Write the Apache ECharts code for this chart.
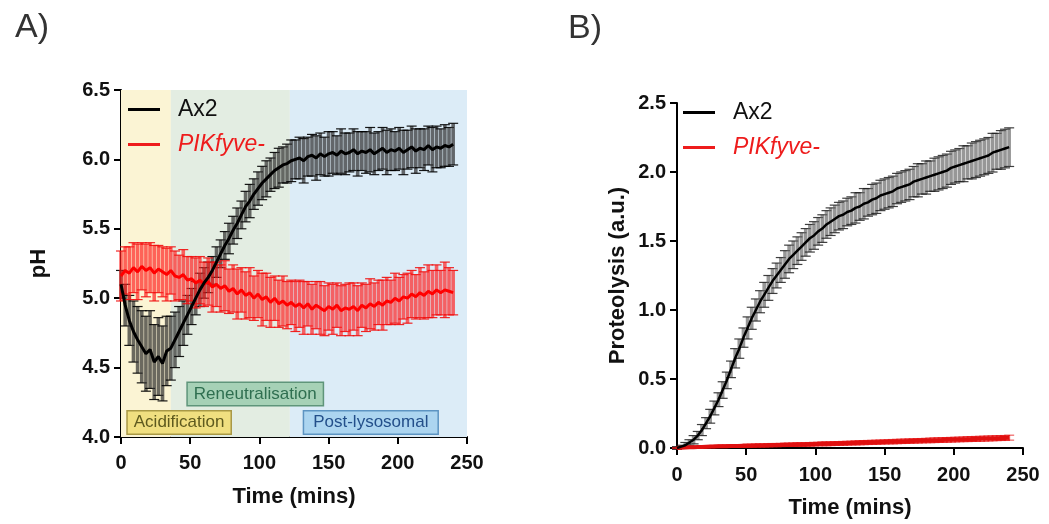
<!DOCTYPE html>
<html>
<head>
<meta charset="utf-8">
<script src="https://cdn.jsdelivr.net/npm/echarts@6/dist/echarts.min.js"></script>
<style>
html,body{margin:0;padding:0;background:#fff;}
#chart{width:1049px;height:524px;}
</style>
</head>
<body>
<div id="chart"></div>
<script>
// Sampling times (mins)
const times = [
0,3,6,9,12,15,18,21,24,27,
30,33,36,39,42,45,48,51,54,57,
60,63,66,69,72,75,78,81,84,87,
90,93,96,99,102,105,108,111,114,117,
120,123,126,129,132,135,138,141,144,147,
150,153,156,159,162,165,168,171,174,177,
180,183,186,189,192,195,198,201,204,207,
210,213,216,219,222,225,228,231,234,237,
240];

// Panel A: pH
const phAx2 = [
5.10,4.95,4.84,4.76,4.70,4.65,4.60,4.63,4.54,4.58,
4.53,4.62,4.64,4.70,4.76,4.82,4.88,4.94,5.00,5.06,
5.11,5.15,5.20,5.26,5.32,5.38,5.43,5.49,5.54,5.60,
5.66,5.70,5.75,5.79,5.83,5.86,5.89,5.92,5.94,5.96,
5.97,5.99,6.00,6.01,5.99,6.02,6.03,6.01,6.04,6.02,
6.04,6.05,6.03,6.06,6.04,6.05,6.07,6.04,6.06,6.05,
6.07,6.04,6.06,6.08,6.05,6.07,6.06,6.08,6.05,6.07,
6.09,6.06,6.08,6.07,6.10,6.07,6.09,6.08,6.10,6.09,
6.11];
const phAx2Err = [
0.10,0.15,0.18,0.22,0.24,0.26,0.27,0.28,0.27,0.28,
0.27,0.25,0.23,0.20,0.18,0.16,0.14,0.13,0.12,0.12,
0.11,0.11,0.10,0.11,0.10,0.10,0.11,0.10,0.11,0.10,
0.11,0.12,0.11,0.12,0.12,0.13,0.12,0.13,0.14,0.13,
0.14,0.15,0.14,0.15,0.16,0.14,0.15,0.16,0.15,0.14,
0.16,0.15,0.14,0.16,0.15,0.14,0.15,0.16,0.14,0.15,
0.16,0.15,0.14,0.15,0.16,0.15,0.14,0.15,0.16,0.14,
0.15,0.16,0.14,0.15,0.14,0.16,0.15,0.14,0.15,0.14,
0.15];
const phPik = [
5.16,5.20,5.18,5.22,5.19,5.23,5.20,5.22,5.18,5.21,
5.19,5.17,5.20,5.16,5.15,5.17,5.13,5.14,5.11,5.13,
5.10,5.12,5.08,5.10,5.07,5.09,5.05,5.07,5.03,5.06,
5.02,5.04,5.00,5.03,4.99,5.01,4.97,5.00,4.96,4.98,
4.95,4.97,4.94,4.96,4.93,4.96,4.92,4.95,4.93,4.91,
4.94,4.92,4.95,4.91,4.93,4.92,4.94,4.91,4.95,4.93,
4.96,4.94,4.97,4.95,4.98,4.97,5.00,4.98,5.01,5.00,
5.03,5.01,5.04,5.02,5.05,5.03,5.06,5.04,5.06,5.05,
5.04];
const phPikErr = [
0.18,0.17,0.19,0.18,0.20,0.17,0.19,0.18,0.20,0.17,
0.18,0.19,0.17,0.18,0.16,0.18,0.17,0.16,0.18,0.17,
0.16,0.17,0.18,0.16,0.17,0.18,0.16,0.17,0.18,0.16,
0.17,0.18,0.16,0.17,0.19,0.17,0.18,0.16,0.17,0.18,
0.17,0.16,0.18,0.17,0.19,0.16,0.18,0.17,0.19,0.18,
0.17,0.18,0.16,0.18,0.17,0.19,0.17,0.18,0.16,0.17,
0.18,0.17,0.16,0.18,0.17,0.16,0.18,0.17,0.16,0.18,
0.17,0.16,0.18,0.17,0.19,0.17,0.18,0.16,0.20,0.17,
0.16];

// Panel B: proteolysis (a.u.)
const protAx2 = [
0.00,0.01,0.02,0.04,0.06,0.09,0.13,0.18,0.23,0.29,
0.35,0.42,0.49,0.57,0.65,0.72,0.80,0.87,0.94,1.00,
1.06,1.11,1.16,1.21,1.25,1.29,1.33,1.37,1.40,1.43,
1.46,1.49,1.52,1.54,1.57,1.59,1.62,1.64,1.66,1.68,
1.69,1.71,1.72,1.74,1.75,1.77,1.78,1.80,1.81,1.83,
1.84,1.85,1.86,1.88,1.89,1.90,1.91,1.93,1.94,1.95,
1.96,1.97,1.98,1.99,2.00,2.01,2.03,2.04,2.05,2.06,
2.07,2.08,2.09,2.10,2.11,2.12,2.14,2.15,2.16,2.17,
2.18];
const protAx2Err = [
0.01,0.01,0.02,0.02,0.03,0.03,0.04,0.04,0.05,0.05,
0.05,0.06,0.06,0.06,0.07,0.07,0.07,0.08,0.08,0.08,
0.08,0.09,0.09,0.09,0.09,0.09,0.10,0.10,0.10,0.10,
0.10,0.10,0.10,0.10,0.10,0.10,0.10,0.10,0.10,0.10,
0.10,0.10,0.10,0.11,0.10,0.11,0.10,0.11,0.11,0.11,
0.11,0.11,0.11,0.11,0.11,0.11,0.11,0.11,0.12,0.11,
0.12,0.11,0.12,0.12,0.12,0.12,0.12,0.12,0.12,0.13,
0.12,0.13,0.13,0.13,0.13,0.13,0.14,0.13,0.14,0.14,
0.14];
const protPik = [
0.000,0.002,0.004,0.005,0.006,0.007,0.008,0.009,0.010,0.011,
0.012,0.012,0.013,0.014,0.015,0.015,0.016,0.017,0.017,0.018,
0.019,0.019,0.020,0.021,0.021,0.022,0.023,0.023,0.024,0.025,
0.025,0.026,0.027,0.028,0.029,0.030,0.030,0.031,0.032,0.033,
0.034,0.035,0.036,0.037,0.038,0.039,0.040,0.041,0.042,0.043,
0.044,0.045,0.046,0.047,0.048,0.049,0.050,0.051,0.052,0.053,
0.054,0.055,0.056,0.057,0.058,0.059,0.060,0.061,0.062,0.063,
0.064,0.065,0.066,0.067,0.068,0.069,0.070,0.071,0.072,0.073,
0.075];
const protPikErr = [
0.004,0.005,0.005,0.006,0.006,0.007,0.007,0.008,0.008,0.008,
0.009,0.009,0.009,0.010,0.010,0.010,0.010,0.011,0.011,0.011,
0.011,0.011,0.012,0.012,0.012,0.012,0.012,0.012,0.013,0.013,
0.013,0.013,0.013,0.013,0.013,0.014,0.014,0.014,0.014,0.014,
0.014,0.014,0.014,0.015,0.015,0.015,0.015,0.015,0.015,0.015,
0.015,0.015,0.016,0.016,0.016,0.016,0.016,0.016,0.016,0.016,
0.016,0.017,0.017,0.017,0.017,0.017,0.017,0.017,0.017,0.017,
0.018,0.018,0.018,0.018,0.018,0.018,0.018,0.018,0.018,0.018,
0.018];

// Phase regions (mins) and labels for panel A
const phaseNames  = ['Acidification', 'Reneutralisation', 'Post-lysosomal'];
const phaseStarts = [0, 36, 122];
const phaseEnds   = [36, 122, 250];
const phaseLabelX = [42, 97, 180.5];
const phaseLabelY = [4.105, 4.31, 4.105];

const FONT = "'Liberation Sans', Arial, sans-serif";
const phaseBg = ['#fbf4d4', '#e3ede2', '#dcecf7'];
const phaseBox = [
  {bg:'#f0df80', border:'#a89845', color:'#5e5a1e'},
  {bg:'#a6d1b6', border:'#5f957a', color:'#2f6f50'},
  {bg:'#acd5f0', border:'#5d94c2', color:'#234f8a'}
];

function pairs(ys){ return times.map((t,i)=>[t, ys[i]]); }
function triples(ys, es){ return times.map((t,i)=>[t, ys[i], es[i]]); }

function errRender(barColor, capColor, hw, barW, capW){
  return function(params, api){
    const x = api.value(0), y = api.value(1), e = api.value(2);
    const p1 = api.coord([x, y + e]);
    const p2 = api.coord([x, y - e]);
    const sb = {stroke: barColor, lineWidth: barW};
    const sc = {stroke: capColor, lineWidth: capW};
    return {type:'group', children:[
      {type:'line', shape:{x1:p1[0], y1:p1[1], x2:p2[0], y2:p2[1]}, style:sb},
      {type:'line', shape:{x1:p1[0]-hw, y1:p1[1], x2:p1[0]+hw, y2:p1[1]}, style:sc},
      {type:'line', shape:{x1:p2[0]-hw, y1:p2[1], x2:p2[0]+hw, y2:p2[1]}, style:sc}
    ]};
  };
}

function xAxisCfg(grid, gap, margin){
  return {
    type:'value', gridIndex:grid, min:0, max:250, interval:50,
    name:'Time (mins)', nameLocation:'middle', nameGap:gap,
    nameTextStyle:{fontFamily:FONT, fontWeight:'bold', fontSize:22, color:'#111'},
    axisLine:{lineStyle:{color:'#000', width:2}},
    axisTick:{inside:false, length:7, lineStyle:{color:'#000', width:2}},
    axisLabel:{margin:margin, fontFamily:FONT, fontWeight:'bold', fontSize:20, color:'#111'},
    splitLine:{show:false}
  };
}
function yAxisCfg(grid, min, max, name, gap){
  return {
    type:'value', gridIndex:grid, min:min, max:max, interval:0.5,
    name:name, nameLocation:'middle', nameGap:gap,
    nameTextStyle:{fontFamily:FONT, fontWeight:'bold', fontSize:22, color:'#111'},
    axisLine:{show:true, lineStyle:{color:'#000', width:2}},
    axisTick:{show:true, inside:false, length:7, lineStyle:{color:'#000', width:2}},
    axisLabel:{margin:11, fontFamily:FONT, fontWeight:'bold', fontSize:20, color:'#111',
      formatter:v=>v.toFixed(1)},
    splitLine:{show:false}
  };
}

const legendCommon = {
  orient:'vertical', itemWidth:32, itemHeight:3, itemGap:12, padding:0,
  icon:'rect', selectedMode:false,
  textStyle:{fontFamily:FONT, fontSize:23, color:'#111', padding:[0,0,0,13]},
  data:[
    {name:'Ax2'},
    {name:'PIKfyve-', textStyle:{color:'#ee1c1c', fontStyle:'italic'}}
  ]
};

const option = {
  backgroundColor:'#fff',
  animation:false,
  title:[
    {text:'A)', left:10, top:6, textStyle:{fontFamily:FONT, fontSize:34, fontWeight:'normal', color:'#333'}},
    {text:'B)', left:563, top:7, textStyle:{fontFamily:FONT, fontSize:34, fontWeight:'normal', color:'#333'}}
  ],
  legend:[
    Object.assign({}, legendCommon, {left:128, top:98}),
    Object.assign({}, legendCommon, {left:683, top:101})
  ],
  grid:[
    {left:121, top:90, width:346, height:347},
    {left:677, top:103, width:346, height:347}
  ],
  xAxis:[ xAxisCfg(0, 49, 16), xAxisCfg(1, 49, 17) ],
  yAxis:[ yAxisCfg(0, 4.0, 6.5, 'pH', 71), yAxisCfg(1, 0.0, 2.5, 'Proteolysis (a.u.)', 48) ],
  series:[
    // Panel A background phases
    {
      type:'line', name:'phases', xAxisIndex:0, yAxisIndex:0, data:[], silent:true,
      markArea:{silent:true, data: phaseNames.map((n,i)=>[
        {xAxis:phaseStarts[i], itemStyle:{color:phaseBg[i]}},
        {xAxis:phaseEnds[i]}
      ])}
    },
    {
      type:'custom', name:'Ax2 err A', xAxisIndex:0, yAxisIndex:0, z:2,
      renderItem: errRender('rgba(45,45,45,0.7)', 'rgba(0,0,0,0.9)', 5, 3.6, 1.2),
      encode:{x:0, y:1}, data: triples(phAx2, phAx2Err), silent:true
    },
    {
      type:'custom', name:'PIK err A', xAxisIndex:0, yAxisIndex:0, z:3,
      renderItem: errRender('rgba(255,30,30,0.68)', 'rgba(240,15,15,0.9)', 5, 3.6, 1.2),
      encode:{x:0, y:1}, data: triples(phPik, phPikErr), silent:true
    },
    {
      type:'line', name:'PIKfyve-', xAxisIndex:0, yAxisIndex:0, z:4,
      data: pairs(phPik), showSymbol:false, symbol:'none',
      lineStyle:{color:'#ff0000', width:3}, itemStyle:{color:'#ee1c1c'}
    },
    {
      type:'line', name:'Ax2', xAxisIndex:0, yAxisIndex:0, z:5,
      data: pairs(phAx2), showSymbol:false, symbol:'none',
      lineStyle:{color:'#000', width:3}, itemStyle:{color:'#000'}
    },
    {
      type:'scatter', name:'phase labels', xAxisIndex:0, yAxisIndex:0, z:6,
      symbol:'rect', symbolSize:1, itemStyle:{color:'rgba(0,0,0,0)'}, silent:true,
      data: phaseNames.map((n,i)=>({
        value:[phaseLabelX[i], phaseLabelY[i]], name:n,
        label:{show:true, position:'inside', formatter:n, opacity:1,
          fontFamily:FONT, fontSize:17, color:phaseBox[i].color,
          backgroundColor:phaseBox[i].bg, borderColor:phaseBox[i].border, borderWidth:1.5,
          padding: i === 2 ? [3,9,2,9] : [3,6,2,6]}
      }))
    },
    // Panel B
    {
      type:'custom', name:'Ax2 err B', xAxisIndex:1, yAxisIndex:1, z:2,
      renderItem: errRender('rgba(95,95,95,0.65)', 'rgba(30,30,30,0.85)', 5, 3.6, 1.2),
      encode:{x:0, y:1}, data: triples(protAx2, protAx2Err), silent:true
    },
    {
      type:'line', name:'Ax2', xAxisIndex:1, yAxisIndex:1, z:5,
      data: pairs(protAx2), showSymbol:false, symbol:'none',
      lineStyle:{color:'#000', width:2.5}, itemStyle:{color:'#000'}
    },
    {
      type:'custom', name:'PIK err B', xAxisIndex:1, yAxisIndex:1, z:3,
      renderItem: errRender('rgba(230,20,20,0.7)', 'rgba(230,20,20,0.8)', 5, 2, 1),
      encode:{x:0, y:1}, data: triples(protPik, protPikErr), silent:true
    },
    {
      type:'line', name:'PIKfyve-', xAxisIndex:1, yAxisIndex:1, z:4,
      data: pairs(protPik), showSymbol:false, symbol:'none',
      lineStyle:{color:'#e01010', width:4}, itemStyle:{color:'#ee1c1c'}
    }
  ]
};

const chart = echarts.init(document.getElementById('chart'), null, {renderer:'canvas'});
chart.setOption(option);
</script>
</body>
</html>
